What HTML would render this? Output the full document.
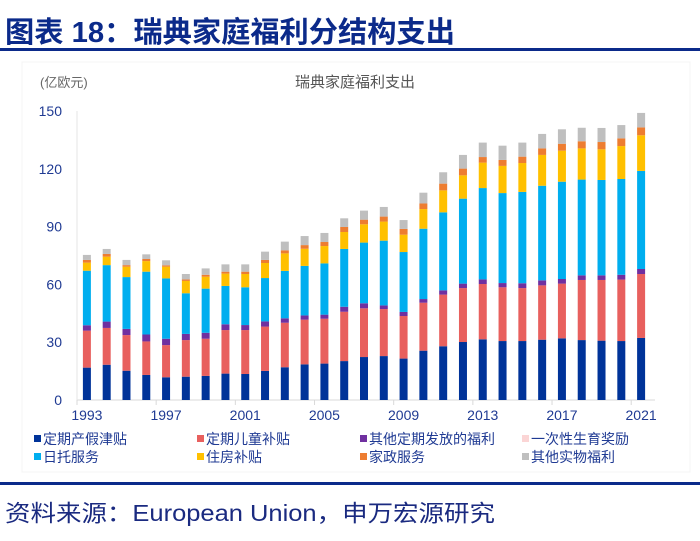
<!DOCTYPE html>
<html><head><meta charset="utf-8"><style>
body{margin:0;width:700px;height:536px;background:#fff;overflow:hidden;font-family:"Liberation Sans","Noto Sans CJK SC",sans-serif;}
</style></head><body>
<svg id="c" width="700" height="536" xmlns="http://www.w3.org/2000/svg">
<text x="5" y="42" font-size="29" font-weight="bold" fill="#0b2a8a" textLength="450" lengthAdjust="spacingAndGlyphs" font-family="Liberation Sans, Noto Sans CJK SC, sans-serif">图表 18：瑞典家庭福利分结构支出</text>
<rect x="0" y="48" width="700" height="3" fill="#0b2a8a"/>
<rect x="22" y="62" width="668" height="410" fill="none" stroke="#f4f4f4"/>
<text x="40" y="87" font-size="13" fill="#666">(亿欧元)</text>
<text x="355" y="87" font-size="15" fill="#555" text-anchor="middle">瑞典家庭福利支出</text>
<g id="ax"></g><g id="bars"></g><g id="leg"></g>
<rect x="0" y="482" width="700" height="3" fill="#0b2a8a"/>
<text x="5" y="521" font-size="23" fill="#1a2a80" textLength="490" lengthAdjust="spacingAndGlyphs">资料来源：European Union，申万宏源研究</text>
</svg>
<script>
const years=[];for(let y=1993;y<=2021;y++)years.push(y);
const maternity=[16.8,18.3,15.2,13.0,11.8,12.1,12.5,13.7,13.5,15.1,17.0,18.5,18.9,20.2,22.3,22.8,21.5,25.6,27.9,30.1,31.5,30.6,30.6,31.3,32.0,31.1,30.8,30.6,32.2];
const child=[19.2,19.1,18.5,17.4,16.7,19.0,19.3,22.6,22.8,23.0,23.1,23.2,23.3,25.6,25.3,24.4,22.1,24.9,26.8,28.0,28.7,27.9,27.5,28.2,28.4,31.2,31.5,31.9,33.2];
const otherPeriodic=[2.8,3.3,3.2,3.6,3.3,3.2,3.1,3.0,2.6,2.7,2.3,2.2,2.1,2.6,2.6,1.9,2.1,1.9,2.2,2.3,2.4,2.2,2.5,2.6,2.4,2.4,2.4,2.5,2.6];
const birthGrant=[0,0,0,0,0,0,0,0,0,0,0,0,0,0,0,0,0,0,0,0,0,0,0,0,0,0,0,0,0];
const daycare=[28.3,29.3,26.9,32.6,31.3,21.1,22.9,19.9,19.6,22.5,24.6,25.7,26.6,30.0,31.5,33.6,31.1,36.5,40.5,44.1,47.4,46.7,47.4,49.1,50.5,49.7,49.5,49.7,50.9];
const housing=[4.2,4.4,5.4,5.5,6.1,6.4,6.2,6.4,6.9,7.8,9.1,8.9,9.0,8.8,9.5,9.9,9.0,10.2,11.4,12.1,13.2,14.1,15.0,16.0,16.1,16.2,15.9,17.1,18.5];
const homeHelp=[1.4,1.4,0.8,1.1,0.7,0.8,1.0,1.0,1.2,1.6,1.6,1.9,2.1,2.6,2.4,2.6,3.0,2.9,3.5,3.5,2.9,3.1,3.3,3.4,3.6,3.7,3.8,4.0,4.1];
const otherInKind=[2.6,2.6,2.7,2.4,2.6,2.8,3.3,3.8,3.8,4.3,4.5,4.7,4.7,4.5,4.7,5.0,4.6,5.6,5.9,7.1,7.5,7.4,7.3,7.5,7.5,7.0,7.3,6.9,7.5];
const yTicks=[0,30,60,90,120,150];
const xLabels=[1993,1997,2001,2005,2009,2013,2017,2021];
const seriesNames=["定期产假津贴","定期儿童补贴","其他定期发放的福利","一次性生育奖励","日托服务","住房补贴","家政服务","其他实物福利"];
const series=[maternity,child,otherPeriodic,birthGrant,daycare,housing,homeHelp,otherInKind];
const colors=["#003399","#e8605e","#7030a0","#fbd5d5","#00aeef","#ffc000","#ed7d31","#bfbfbf"];
const NS="http://www.w3.org/2000/svg";
const x0=77,x1=651,y0=400,y1=111,yMax=150;
const band=(x1-x0)/years.length;
const X=i=>x0+band*(i+0.5);
const Y=v=>y0-(v/yMax)*(y0-y1);
function mk(t,a,p){const e=document.createElementNS(NS,t);for(const k in a)e.setAttribute(k,a[k]);p.appendChild(e);return e;}
const ax=document.getElementById('ax'),bars=document.getElementById('bars'),leg=document.getElementById('leg');
const axl=mk('line',{x1:x0,y1:y0,x2:x1+4,y2:y0,stroke:'#d9d9d9'},ax);


const yl=mk('line',{x1:x0,y1:y1,x2:x0,y2:y0,stroke:'#e6e6e6'},ax);


yTicks.forEach(v=>{const t=mk('text',{x:62,y:Y(v)+5,'font-size':14,fill:'#1f3a93','text-anchor':'end'},ax);t.textContent=v;

});
for(let k=0;k<=years.length;k+=4){const l=mk('line',{x1:x0+k*band,y1:y0,x2:x0+k*band,y2:y0+5,stroke:'#d9d9d9'},ax);

}
xLabels.forEach(yr=>{const i=years.indexOf(yr);const t=mk('text',{x:X(i),y:y0+20,'font-size':14,fill:'#1f3a93','text-anchor':'middle'},ax);t.textContent=yr;

});
years.forEach((yr,i)=>{let cum=0;series.forEach((s,j)=>{const v=s[i];if(v<=0)return;const r=mk('rect',{x:X(i)-4,y:Y(cum+v),width:8,height:Y(cum)-Y(cum+v),fill:colors[j]},bars);

cum+=v;});});
const lx=[34,197,360,522],ly=[443,461];
seriesNames.forEach((n,j)=>{const gx=lx[j%4],gy=ly[Math.floor(j/4)];
const s=mk('rect',{x:gx,y:gy-8,width:7,height:7,fill:colors[j]},leg);


const t=mk('text',{x:gx+9,y:gy+1,'font-size':14,fill:'#1f3a93'},leg);t.textContent=n;

});
</script>
</body></html>
